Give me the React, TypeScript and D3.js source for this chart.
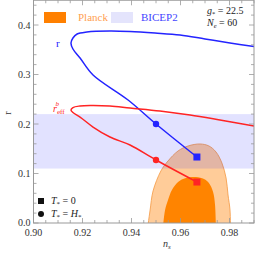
import React from "react";
import * as d3 from "d3";

// spectral index n_s and tensor ratio r
const blueNs = [0.9667, 0.95, 0.9386, 0.9243, 0.919, 0.9161, 0.9153, 0.9161, 0.9178, 0.9218, 0.9312, 0.9394, 0.9496, 0.9598, 0.97, 0.9802, 0.99];
const blueR = [0.1333, 0.2, 0.2485, 0.299, 0.3333, 0.3515, 0.3636, 0.3737, 0.3818, 0.3859, 0.3879, 0.3869, 0.3838, 0.3798, 0.3717, 0.3636, 0.3566];

const redNs = [0.9667, 0.95, 0.9394, 0.9312, 0.9243, 0.919, 0.9161, 0.9153, 0.9161, 0.919, 0.9231, 0.9312, 0.9394, 0.9516, 0.9639, 0.9761, 0.99];
const redR = [0.0828, 0.1273, 0.1576, 0.1737, 0.1939, 0.2141, 0.2232, 0.2283, 0.2333, 0.2364, 0.2374, 0.2364, 0.2323, 0.2263, 0.2182, 0.2081, 0.196];

// markers: T*=0 (square) and T*=H* (dot)
const squareNs = [0.9667, 0.9667];
const squareR = [0.1333, 0.0828];
const dotNs = [0.95, 0.95];
const dotR = [0.2, 0.1273];

// Planck contours (95% and 68%)
const outerNs = [0.9463, 0.9476, 0.9488, 0.952, 0.9549, 0.959, 0.9631, 0.968, 0.9716, 0.9745, 0.9769, 0.9786, 0.9794, 0.9802, 0.9804];
const outerR = [-0.02, 0.0263, 0.0646, 0.1051, 0.1253, 0.1455, 0.1556, 0.1596, 0.1556, 0.1434, 0.1212, 0.0909, 0.0566, 0.0263, -0.02];
const innerNs = [0.9526, 0.9537, 0.9549, 0.9565, 0.959, 0.9622, 0.9663, 0.9696, 0.9716, 0.9733, 0.9741, 0.9745];
const innerR = [-0.02, 0.0263, 0.0465, 0.0667, 0.0828, 0.0909, 0.0929, 0.0889, 0.0808, 0.0626, 0.0364, -0.02];

// BICEP2 band
const bicepRange = [0.11, 0.22];

const xTicks = [0.9, 0.92, 0.94, 0.96, 0.98];
const yTicks = [0, 0.1, 0.2, 0.3, 0.4];

const x = d3.scaleLinear().domain([0.9, 0.99]).range([33.5, 254]);
const y = d3.scaleLinear().domain([0, 0.45]).range([223, 0.25]);

const serif = "'Liberation Serif', 'DejaVu Serif', serif";

function pts(ns: number[], r: number[]): [number, number][] {
  return ns.map((n, i) => [x(n), y(r[i])]);
}

export default function App() {
  const curve = d3.line().curve(d3.curveCatmullRom.alpha(0.5));
  const x0 = x.range()[0], x1 = x.range()[1];
  const y0 = y.range()[0], y1 = y.range()[1];

  const xMinor = d3.range(0, 19).map((i) => 0.9 + i * 0.005);
  const yMinor = d3.range(0, 23).map((i) => i * 0.02);

  const blue = "#2424ff";
  const red = "#ff2424";

  return (
    <svg width={256} height={256} style={{ position: "absolute", left: 0, top: 0, background: "#fff" }} fontFamily={serif}>
      <defs>
        <clipPath id="plot">
          <rect x={x0} y={y1} width={x1 - x0} height={y0 - y1} />
        </clipPath>
      </defs>
      <g clipPath="url(#plot)">
        <path d={curve(pts(outerNs, outerR)) + "Z"} fill="#ffcc99" stroke="#f5a050" strokeWidth={0.9} />
        <path d={curve(pts(innerNs, innerR)) + "Z"} fill="#ff8400" />
        <rect x={x0} y={y(bicepRange[1])} width={x1 - x0} height={y(bicepRange[0]) - y(bicepRange[1])} fill="rgba(20,20,255,0.12)" />
        <path d={curve(pts(blueNs, blueR)) || ""} fill="none" stroke={blue} strokeWidth={1.5} />
        <path d={curve(pts(redNs, redR)) || ""} fill="none" stroke={red} strokeWidth={1.5} />
        {squareNs.map((n, i) => (
          <rect key={"s" + i} x={x(n) - 3.5} y={y(squareR[i]) - 3.5} width={7} height={7} fill={i === 0 ? blue : red} />
        ))}
        {dotNs.map((n, i) => (
          <circle key={"d" + i} cx={x(n)} cy={y(dotR[i])} r={3.2} fill={i === 0 ? blue : red} />
        ))}
      </g>

      {/* frame and ticks */}
      <rect x={x0} y={y1} width={x1 - x0} height={y0 - y1} fill="none" stroke="#999" strokeWidth={1} />
      {xMinor.map((v, i) => {
        const major = i % 4 === 0;
        const len = major ? 5 : 3;
        return (
          <g key={"xt" + i} stroke="#999" strokeWidth={0.8}>
            <line x1={x(v)} x2={x(v)} y1={y0} y2={y0 - len} />
            <line x1={x(v)} x2={x(v)} y1={y1} y2={y1 + len} />
          </g>
        );
      })}
      {yMinor.map((v, i) => {
        const major = i % 5 === 0;
        const len = major ? 5 : 3;
        return (
          <g key={"yt" + i} stroke="#999" strokeWidth={0.8}>
            <line x1={x0} x2={x0 + len} y1={y(v)} y2={y(v)} />
            <line x1={x1} x2={x1 - len} y1={y(v)} y2={y(v)} />
          </g>
        );
      })}
      {xTicks.map((v) => (
        <text key={"xl" + v} x={x(v)} y={y0 + 13} textAnchor="middle" fontSize={10} fill="#333">
          {v.toFixed(2)}
        </text>
      ))}
      {yTicks.map((v) => (
        <text key={"yl" + v} x={x0 - 3} y={y(v) + (v === 0 ? 2.5 : 3.5)} textAnchor="end" fontSize={10} fill="#333">
          {v.toFixed(1)}
        </text>
      ))}

      {/* axis labels */}
      <text x={163} y={247} fontSize={10} fontStyle="italic" fill="#333">
        n<tspan fontSize={7} dy={2}>s</tspan>
      </text>
      <text transform="translate(11,113) rotate(-90)" fontSize={10} textAnchor="middle" fill="#333">
        r
      </text>

      {/* top legend */}
      <rect x={44} y={12} width={22} height={11} fill="#ff8000" />
      <text x={78} y={21} fontSize={11} fill="#ffa050">Planck</text>
      <rect x={111} y={12} width={22} height={11} fill="#e4e4fc" />
      <text x={141} y={21} fontSize={11} fill="#4444ff">BICEP2</text>

      <text x={207} y={14} fontSize={10} fill="#222">
        <tspan fontStyle="italic">g</tspan>
        <tspan fontSize={6.5} dy={1.5}>*</tspan>
        <tspan dy={-1.5}> = 22.5</tspan>
      </text>
      <text x={207} y={26} fontSize={10} fill="#222">
        <tspan fontStyle="italic">N</tspan>
        <tspan fontSize={6.5} dy={1.5} fontStyle="italic">e</tspan>
        <tspan dy={-1.5}> = 60</tspan>
      </text>

      {/* curve labels */}
      <text x={56} y={47} fontSize={11} fill={blue}>r</text>
      <text x={53} y={112} fontSize={10} fontStyle="italic" fill={red}>
        r<tspan fontSize={7} dy={2} fontStyle="normal">eff</tspan>
        <tspan fontSize={7} dx={-9} dy={-8} fontStyle="italic">b</tspan>
      </text>

      {/* marker legend */}
      <rect x={38} y={198} width={6} height={6} fill="#111" />
      <text x={51} y={204} fontSize={10} fill="#222">
        <tspan fontStyle="italic">T</tspan>
        <tspan fontSize={7} dy={2}>*</tspan>
        <tspan dy={-2}> = 0</tspan>
      </text>
      <circle cx={41} cy={214} r={3} fill="#111" />
      <text x={51} y={217} fontSize={10} fill="#222">
        <tspan fontStyle="italic">T</tspan>
        <tspan fontSize={7} dy={2}>*</tspan>
        <tspan dy={-2}> = </tspan>
        <tspan fontStyle="italic">H</tspan>
        <tspan fontSize={7} dy={2}>*</tspan>
      </text>
    </svg>
  );
}
